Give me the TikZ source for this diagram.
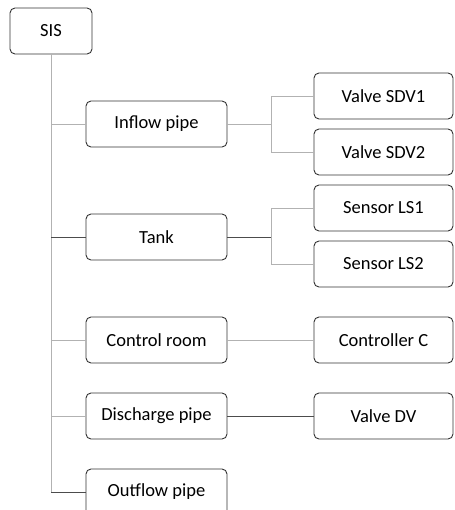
\documentclass[tikz,border=0pt]{standalone}
\usepackage{fontspec}
\setmainfont{Carlito}

\tikzset{
  part/.style={shape=rectangle,rounded corners=5pt,draw=black!80,line width=0.9pt,
    minimum height=46pt,inner sep=0pt,font=\fontsize{18.5}{22}\selectfont},
  sub/.style={part,minimum width=141pt},
  leaf/.style={part,minimum width=139pt},
  link/.style={draw=black!30,line width=0.9pt},
  darklink/.style={draw=black!70,line width=0.9pt}
}

\begin{document}
\begin{tikzpicture}[x=1pt,y=-1pt]
\useasboundingbox (0,0) rectangle (454,510);

\node[part,minimum width=82pt] (SIS) at (51,31) {SIS};

\node[sub] (inflow) at (156.5,124) {Inflow pipe};
\node[sub] (tank) at (156.5,237) {Tank};
\node[sub] (control) at (156.5,340) {Control room};
\node[sub] (discharge) at (156.5,416) {Discharge pipe};
\node[sub] (outflow) at (156.5,492) {Outflow pipe};

\node[leaf] (SDV1) at (383.5,96) {Valve SDV1};
\node[leaf] (SDV2) at (383.5,152) {Valve SDV2};
\node[leaf] (LS1) at (383.5,208) {Sensor LS1};
\node[leaf] (LS2) at (383.5,264) {Sensor LS2};
\node[leaf] (C) at (383.5,340) {Controller C};
\node[leaf] (DV) at (383.5,416) {Valve DV};

\coordinate (trunk) at (SIS.south |- outflow.west);
\coordinate (fork1) at (271,124);
\coordinate (fork2) at (271,237);

% trunk and first level
\path[link] (SIS.south) -- (trunk);
\path[link] (inflow.west) -- (inflow.west -| trunk);
\path[darklink] (tank.west) -- (tank.west -| trunk);
\path[link] (control.west) -- (control.west -| trunk);
\path[link] (discharge.west) -- (discharge.west -| trunk);
\path[darklink] (trunk) -- (outflow.west);

% second level
\path[link] (inflow) -- (fork1);
\path[link] (fork1) |- (SDV1.west);
\path[link] (fork1) |- (SDV2.west);
\path[darklink] (tank) -- (fork2);
\path[link] (fork2) |- (LS1.west);
\path[link] (fork2) |- (LS2.west);
\path[link] (control) -- (C);
\path[darklink] (discharge) -- (DV);
\end{tikzpicture}
\end{document}
